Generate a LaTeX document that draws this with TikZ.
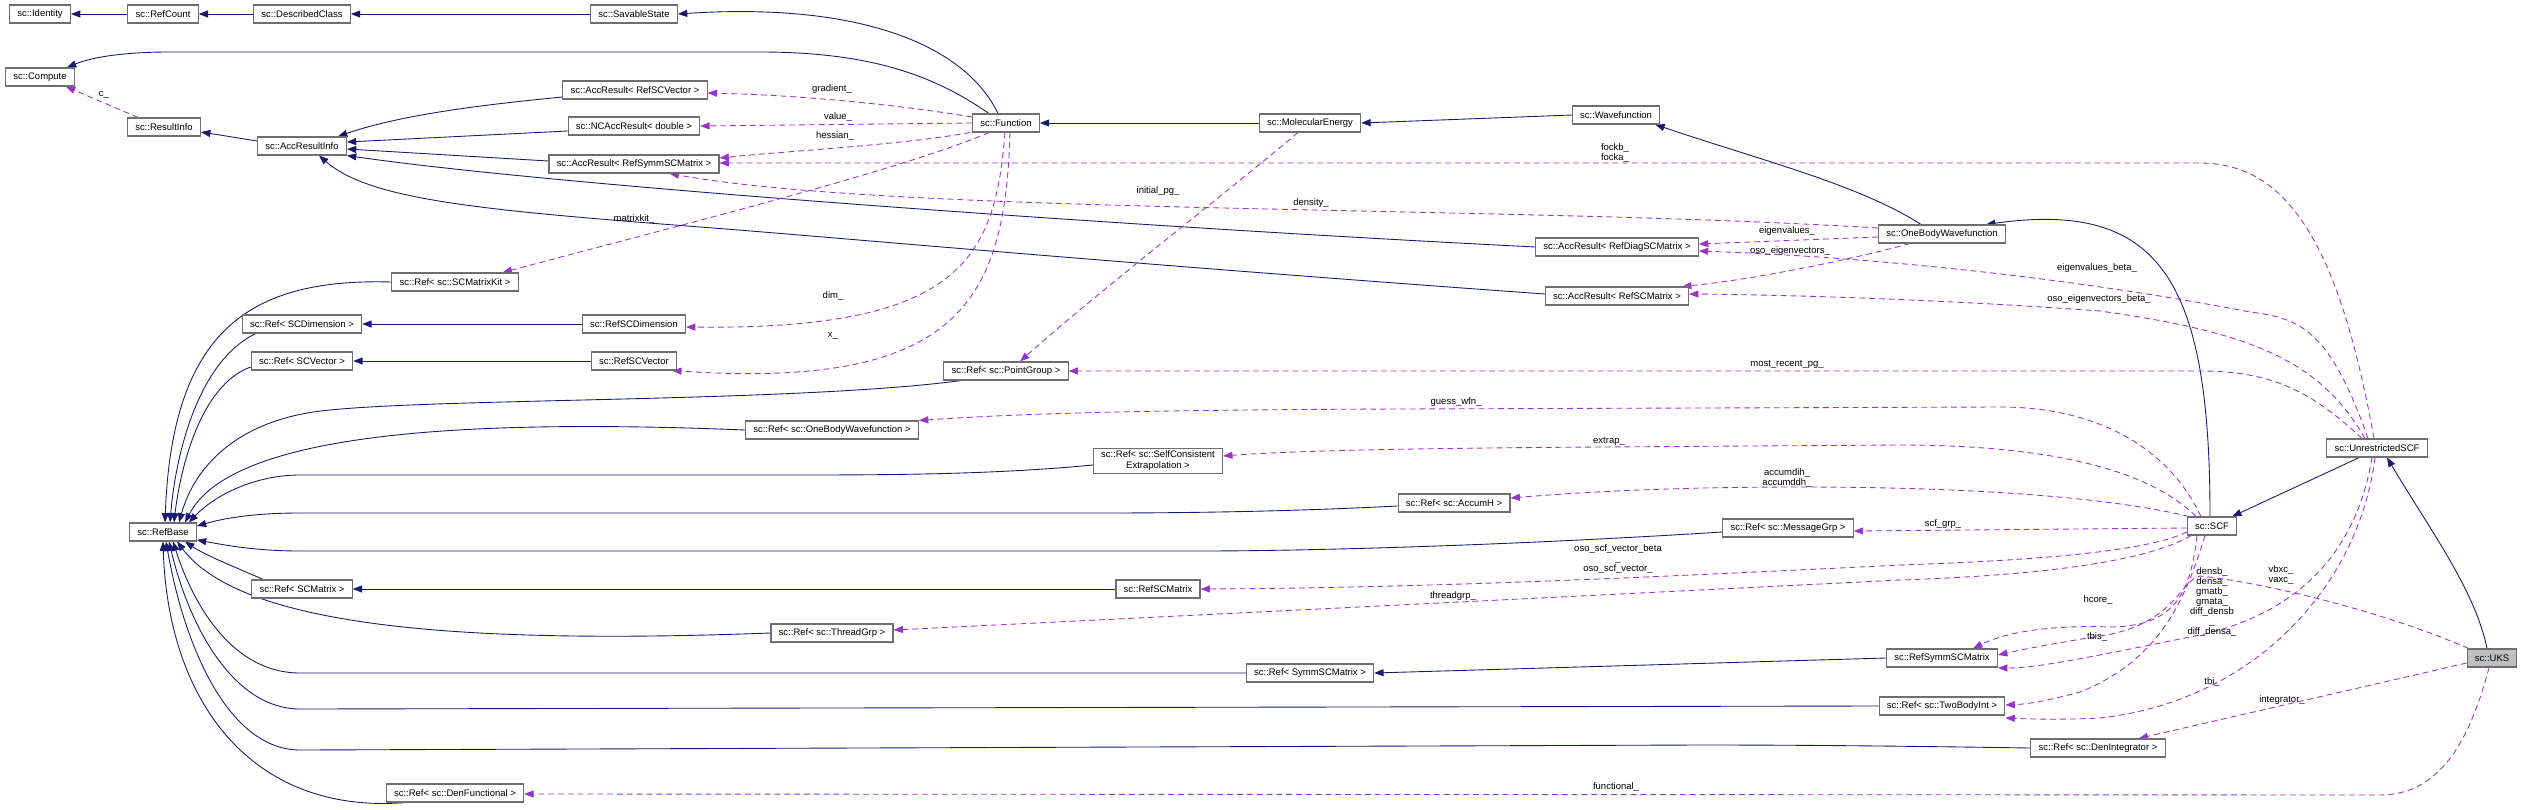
\documentclass[tikz,border=0pt]{standalone}
\usepackage{fontspec}
\setmainfont{Liberation Sans}
\usetikzlibrary{arrows.meta,calc,backgrounds}
\definecolor{MidBlue}{HTML}{191970}
\definecolor{Orchid}{HTML}{9A32CD}
\definecolor{BoxEdge}{HTML}{6E6E6E}
\definecolor{Current}{HTML}{BFBFBF}
\tikzset{
  cls/.style={draw=BoxEdge, line width=0.9pt, fill=white, inner xsep=6.6pt, inner ysep=2pt,
    minimum height=0.54cm, font=\fontsize{8.1}{9.4}\selectfont, align=center},
  clscur/.style={cls, fill=Current},
  inherit/.style={draw=MidBlue, line width=0.75pt, -{Triangle[length=8pt,width=6pt]}},
  member/.style={draw=Orchid, line width=0.75pt, dash pattern=on 5pt off 3.4pt,
    -{Triangle[length=8pt,width=6pt]}},
  mlabel/.style={font=\fontsize{8.1}{8.6}\selectfont, inner sep=0pt, align=center},
}

\begin{document}
\begin{tikzpicture}[x=0.03cm,y=-0.03cm]
  \useasboundingbox (0,0) rectangle (2523,809);
  % classes
  \node[cls] (ident) at (40,14) {sc::Identity};
  \node[cls] (refcount) at (163,14) {sc::RefCount};
  \node[cls] (descr) at (302,14) {sc::DescribedClass};
  \node[cls] (savable) at (634,14) {sc::SavableState};
  \node[cls] (compute) at (40,77) {sc::Compute};
  \node[cls] (resinfo) at (164,127) {sc::ResultInfo};
  \node[cls] (accinfo) at (302,146) {sc::AccResultInfo};
  \node[cls] (arvec) at (635,90) {sc::AccResult< RefSCVector >};
  \node[cls] (ncacc) at (634,126) {sc::NCAccResult< double >};
  \node[cls] (arsymm) at (634,164) {sc::AccResult< RefSymmSCMatrix >};
  \node[cls] (func) at (1006,123) {sc::Function};
  \node[cls] (moleng) at (1310,123) {sc::MolecularEnergy};
  \node[cls] (wfn) at (1616,115) {sc::Wavefunction};
  \node[cls] (obwfn) at (1942,234) {sc::OneBodyWavefunction};
  \node[cls] (ardiag) at (1617,247) {sc::AccResult< RefDiagSCMatrix >};
  \node[cls] (armat) at (1617,296) {sc::AccResult< RefSCMatrix >};
  \node[cls] (refkit) at (455,282) {sc::Ref< sc::SCMatrixKit >};
  \node[cls] (refdim) at (302,324) {sc::Ref< SCDimension >};
  \node[cls] (rdim) at (634,324) {sc::RefSCDimension};
  \node[cls] (refvec) at (302,361) {sc::Ref< SCVector >};
  \node[cls] (rvec) at (634,361) {sc::RefSCVector};
  \node[cls] (refbase) at (163,532) {sc::RefBase};
  \node[cls] (refpg) at (1006,371) {sc::Ref< sc::PointGroup >};
  \node[cls] (refobw) at (832,430) {sc::Ref< sc::OneBodyWavefunction >};
  \node[cls] (refext) at (1158,461) {sc::Ref< sc::SelfConsistent\\Extrapolation >};
  \node[cls] (refacc) at (1454,503) {sc::Ref< sc::AccumH >};
  \node[cls] (refmsg) at (1788,528) {sc::Ref< sc::MessageGrp >};
  \node[cls] (scf) at (2212,526) {sc::SCF};
  \node[cls] (uscf) at (2377,448) {sc::UnrestrictedSCF};
  \node[cls] (refmat) at (302,589) {sc::Ref< SCMatrix >};
  \node[cls] (rmat) at (1158,589) {sc::RefSCMatrix};
  \node[cls] (refthr) at (832,633) {sc::Ref< sc::ThreadGrp >};
  \node[cls] (refsymm) at (1310,673) {sc::Ref< SymmSCMatrix >};
  \node[cls] (rsymm) at (1942,658) {sc::RefSymmSCMatrix};
  \node[cls] (reftbi) at (1942,706) {sc::Ref< sc::TwoBodyInt >};
  \node[clscur] (uks) at (2492,658) {sc::UKS};
  \node[cls] (refdi) at (2098,748) {sc::Ref< sc::DenIntegrator >};
  \node[cls] (refdf) at (455,793) {sc::Ref< sc::DenFunctional >};

  \begin{scope}[on background layer]
    \fill[white] (0,0) rectangle (2523,809);
    % inheritance
    \draw[inherit] (refcount) -- (ident);
    \draw[inherit] (descr) -- (refcount);
    \draw[inherit] (savable) -- (descr);
    \draw[inherit] ($(func.north)+(-8,0)$) .. controls (965,45) and (860,2) .. (savable.east);
    \draw[inherit] ($(func.north)+(-17,0)$) .. controls (940,80) and (880,52) .. (760,52) -- (170,52)
      .. controls (120,52) and (90,58) .. ($(compute.north east)+(-8,0)$);
    \draw[inherit] ($(accinfo.west)+(0,-5)$) -- ($(resinfo.east)+(0,5)$);
    \draw[inherit] ($(arvec.west)+(0,7)$) .. controls (480,105) and (400,115) .. ($(accinfo.north east)+(-9,0)$);
    \draw[inherit] ($(ncacc.west)+(0,5)$) -- ($(accinfo.east)+(0,-4)$);
    \draw[inherit] ($(arsymm.west)+(0,-3)$) -- ($(accinfo.east)+(0,3)$);
    \draw[inherit] (ardiag.west) .. controls (1100,225) and (550,185) .. (accinfo.south east);
    \draw[inherit] ($(armat.west)+(0,-2)$) .. controls (1100,262) and (820,236) .. (700,227)
      .. controls (480,210) and (370,200) .. ($(accinfo.south)+(17,0)$);
    \draw[inherit] (moleng) -- (func);
    \draw[inherit] (wfn.west) -- (moleng.east);
    \draw[inherit] ($(obwfn.north)+(-21,0)$) .. controls (1860,185) and (1760,160) .. ($(wfn.south east)+(-5,0)$);
    \draw[inherit] ($(scf.north)+(-2,0)$) .. controls (2210,280) and (2160,200) .. ($(obwfn.north east)+(-20,0)$);
    \draw[inherit] ($(uscf.south west)+(33,0)$) -- ($(scf.north east)+(-5,0)$);
    \draw[inherit] ($(uks.north)+(-5,0)$) .. controls (2475,590) and (2430,530) .. ($(uscf.south)+(10,0)$);
    \draw[inherit] (rdim) -- (refdim);
    \draw[inherit] (rvec) -- (refvec);
    \draw[inherit] (rmat) -- (refmat);
    \draw[inherit] (rsymm.west) -- (refsymm.east);
    % references to sc::RefBase
    \draw[inherit] (refkit.west) .. controls (250,278) and (172,330) .. ($(refbase.north)+(2,0)$);
    \draw[inherit] ($(refdim.south west)+(14,0)$) .. controls (200,360) and (176,450) .. ($(refbase.north)+(7,0)$);
    \draw[inherit] ($(refvec.west)+(0,6)$) .. controls (200,385) and (180,470) .. ($(refbase.north)+(11,0)$);
    \draw[inherit] ($(refpg.south west)+(18,0)$) .. controls (800,402) and (450,398) .. (330,410)
      .. controls (240,418) and (195,465) .. ($(refbase.north)+(16,0)$);
    \draw[inherit] (refobw.west) .. controls (450,418) and (230,435) .. ($(refbase.north)+(22,0)$);
    \draw[inherit] ($(refext.west)+(0,4)$) .. controls (1000,474) and (900,475) .. (800,475) -- (300,475)
      .. controls (255,475) and (215,495) .. ($(refbase.north east)+(-8,0)$);
    \draw[inherit] ($(refacc.west)+(0,3)$) .. controls (1300,511) and (1200,513) .. (1100,513) -- (300,513)
      .. controls (255,513) and (225,518) .. ($(refbase.east)+(0,-6)$);
    \draw[inherit] ($(refmsg.west)+(0,4)$) .. controls (1500,546) and (1300,551) .. (1200,551) -- (300,551)
      .. controls (255,551) and (225,545) .. ($(refbase.east)+(0,8)$);
    \draw[inherit] ($(refmat.north west)+(12,0)$) .. controls (230,565) and (205,555) .. ($(refbase.south)+(22,0)$);
    \draw[inherit] (refthr.west) .. controls (450,645) and (240,625) .. ($(refbase.south)+(14,0)$);
    \draw[inherit] (refsymm.west) -- (300,673) .. controls (235,673) and (195,610) .. ($(refbase.south)+(10,0)$);
    \draw[inherit] (reftbi.west) -- (300,709) .. controls (235,709) and (190,630) .. ($(refbase.south)+(6,0)$);
    \draw[inherit] (refdi.west) .. controls (1900,746) and (1800,745) .. (1700,745) -- (300,750)
      .. controls (230,750) and (185,650) .. ($(refbase.south)+(3,0)$);
    \draw[inherit] ($(refdf.south west)+(20,0)$) .. controls (250,815) and (168,700) .. (refbase.south);
    % members
    \draw[member] ($(resinfo.north)+(-26,0)$) -- ($(compute.south east)+(-9,0)$)
      node[mlabel] (lc) at (104,95) {c\_};
    \draw[member] ($(func.west)+(0,-6)$) .. controls (900,105) and (800,95) .. ($(arvec.east)+(0,3)$)
      node[mlabel] (lgrad) at (832,89) {gradient\_};
    \draw[member] (func.west) -- (ncacc.east)
      node[mlabel] (lvalue) at (838,117) {value\_};
    \draw[member] ($(func.south west)+(-2,0)$) .. controls (900,145) and (800,150) .. ($(arsymm.east)+(0,-6)$)
      node[mlabel] (lhess) at (835,136) {hessian\_};
    \draw[member] ($(func.south west)+(17,0)$) .. controls (900,170) and (700,220) .. ($(refkit.north east)+(-16,0)$)
      node[mlabel] (lkit) at (634,219) {matrixkit\_};
    \draw[member] ($(func.south)+(-1,0)$) .. controls (995,260) and (960,330) .. ($(rdim.east)+(0,3)$)
      node[mlabel] (ldim) at (833,296) {dim\_};
    \draw[member] ($(func.south)+(4,0)$) .. controls (1005,300) and (960,390) .. ($(rvec.south east)+(-5,0)$)
      node[mlabel] (lx) at (833,336) {x\_};
    \draw[member] ($(moleng.south)+(-12,0)$) .. controls (1230,190) and (1100,290) .. ($(refpg.north)+(14,0)$)
      node[mlabel] (lipg) at (1158,191) {initial\_pg\_};
    \draw[member] ($(obwfn.west)+(0,-6)$) .. controls (1500,205) and (900,215) .. ($(arsymm.south east)+(-50,0)$)
      node[mlabel] (ldens) at (1311,203) {density\_};
    \draw[member] ($(obwfn.west)+(0,3)$) -- ($(ardiag.east)+(0,-3)$)
      node[mlabel] (leval) at (1787,231) {eigenvalues\_};
    \draw[member] ($(obwfn.south west)+(32,0)$) .. controls (1850,260) and (1750,280) .. ($(armat.north east)+(-7,0)$)
      node[mlabel] (levec) at (1790,251) {oso\_eigenvectors\_};
    \draw[member] ($(uscf.north)+(-3,0)$) .. controls (2340,250) and (2290,163) .. (2200,163) -- ($(arsymm.east)+(0,-1)$)
      node[mlabel] (lfock) at (1615,153) {fockb\_\\focka\_};
    \draw[member] ($(uscf.north)+(-9,0)$) .. controls (2330,330) and (2300,318) .. (2250,312)
      .. controls (2100,283) and (1900,258) .. ($(ardiag.east)+(0,4)$)
      node[mlabel] (levalb) at (2097,268) {eigenvalues\_beta\_};
    \draw[member] ($(uscf.north)+(-12,0)$) .. controls (2320,360) and (2250,332) .. (2100,311)
      .. controls (1950,300) and (1800,295) .. ($(armat.east)+(0,-2)$)
      node[mlabel] (levecb) at (2099,299) {oso\_eigenvectors\_beta\_};
    \draw[member] ($(uscf.north)+(-15,0)$) .. controls (2310,390) and (2270,371) .. (2200,371) -- (refpg.east)
      node[mlabel] (lmrpg) at (1787,364) {most\_recent\_pg\_};
    \draw[member] ($(scf.north west)+(14,0)$) .. controls (2170,450) and (2100,407) .. (2000,407) -- (1400,409)
      .. controls (1100,410) and (1000,415) .. (refobw.north east)
      node[mlabel] (lguess) at (1456,402) {guess\_wfn\_};
    \draw[member] ($(scf.north west)+(9,0)$) .. controls (2150,470) and (2050,445) .. (1900,445) -- (1600,447)
      .. controls (1450,448) and (1300,450) .. ($(refext.east)+(0,-5)$)
      node[mlabel] (lextrap) at (1609,441) {extrap\_};
    \draw[member] ($(scf.north west)+(2,0)$) .. controls (2100,495) and (1950,487) .. (1800,487)
      .. controls (1650,487) and (1560,494) .. ($(refacc.east)+(0,-5)$)
      node[mlabel] (laccum) at (1787,478) {accumdih\_\\accumddh\_};
    \draw[member] ($(scf.west)+(0,2)$) -- ($(refmsg.east)+(0,3)$)
      node[mlabel] (lgrp) at (1943,524) {scf\_grp\_};
    \draw[member] ($(scf.west)+(0,6)$) .. controls (2150,550) and (2050,560) .. (1900,565)
      .. controls (1600,580) and (1400,588) .. (rmat.east)
      node[mlabel] (lscfvec) at (1618,559) {oso\_scf\_vector\_beta\\\_\\oso\_scf\_vector\_};
    \draw[member] ($(scf.south west)+(4,0)$) .. controls (2150,560) and (2050,575) .. (1900,580)
      .. controls (1500,600) and (1200,615) .. ($(refthr.east)+(0,-3)$)
      node[mlabel] (lthr) at (1453,596) {threadgrp\_};
    \draw[member] ($(scf.south)+(-15,0)$) .. controls (2190,600) and (2170,625) .. (2113,627)
      .. controls (2060,625) and (2010,630) .. ($(rsymm.north)+(31,0)$)
      node[mlabel] (lhcore) at (2098,600) {hcore\_};
    \draw[member] ($(uks.north west)+(2,0)$) .. controls (2380,610) and (2260,582) .. (2200,576)
      .. controls (2180,580) and (2175,625) .. (2100,636)
      .. controls (2050,644) and (2020,650) .. ($(rsymm.east)+(0,-3)$)
      node[mlabel] (lvxc) at (2281,575) {vbxc\_\\vaxc\_};
    \draw[member] ($(uscf.south)+(-5,0)$) .. controls (2355,560) and (2290,615) .. (2200,635)
      .. controls (2100,655) and (2040,668) .. ($(rsymm.east)+(0,10)$)
      node[mlabel] (ldens2) at (2212,602) {densb\_\\densa\_\\gmatb\_\\gmata\_\\diff\_densb\\\_\\diff\_densa\_};
    \draw[member] ($(scf.south)+(-7,0)$) .. controls (2185,600) and (2160,660) .. (2080,692)
      .. controls (2050,700) and (2030,704) .. ($(reftbi.east)+(0,-1)$)
      node[mlabel] (ltbis) at (2097,637) {tbis\_};
    \draw[member] ($(uscf.south)+(-2,0)$) .. controls (2360,580) and (2260,700) .. (2100,718)
      .. controls (2060,720) and (2030,719) .. ($(reftbi.east)+(0,12)$)
      node[mlabel] (ltbi) at (2212,682) {tbi\_};
    \draw[member] ($(uks.west)+(0,5)$) .. controls (2350,690) and (2240,715) .. ($(refdi.north east)+(-27,0)$)
      node[mlabel] (linteg) at (2282,700) {integrator\_};
    \draw[member] ($(uks.south)+(-3,0)$) .. controls (2470,740) and (2440,795) .. (2380,795) -- ($(refdf.east)+(0,1)$)
      node[mlabel] (lfunc) at (1616,787) {functional\_};
  \end{scope}
\end{tikzpicture}
\end{document}
